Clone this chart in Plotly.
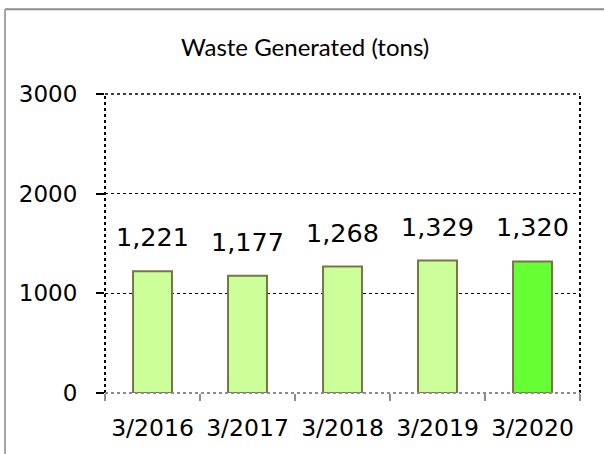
import plotly.graph_objects as go

categories = ["3/2016", "3/2017", "3/2018", "3/2019", "3/2020"]
values = [1221, 1177, 1268, 1329, 1320]
value_labels = ["1,221", "1,177", "1,268", "1,329", "1,320"]
bar_colors = ["#CCFF99", "#CCFF99", "#CCFF99", "#CCFF99", "#66FF33"]
y_ticks = [0, 1000, 2000, 3000]
title_text = "Waste Generated (tons)"

W, H = 604, 454
# plot area in pixel coordinates
PL, PR, PT, PB = 105, 580, 94, 397
L = PL
T = PT
R = W - PR
B = H - PB
pw = PR - PL
ph = PB - PT

def px(x):
    return (x - PL) / pw

def py(y):
    return (PB - y) / ph

fig = go.Figure()
fig.add_trace(go.Bar(
    x=categories, y=values,
    marker=dict(color=bar_colors, line=dict(color="#767647", width=2)),
    width=0.41,
    hoverinfo="skip",
))

for c, v, t in zip(categories, values, value_labels):
    fig.add_annotation(x=c, y=v, text=t, showarrow=False, yanchor="bottom",
                       yshift=17, font=dict(family="DejaVu Sans", size=25.5, color="#000000"))

fig.add_annotation(xref="paper", yref="paper", x=px(305), y=py(46), text=title_text,
                   showarrow=False, xanchor="center", yanchor="middle",
                   font=dict(family="Lato", size=24, color="#000000"))

shapes = [
    dict(type="line", xref="paper", yref="paper", x0=px(5), x1=px(640), y0=py(8), y1=py(8),
         line=dict(color="#8c8c8c", width=2)),
    dict(type="line", xref="paper", yref="paper", x0=px(5), x1=px(5), y0=py(8), y1=py(500),
         line=dict(color="#a6a6a6", width=2)),
    dict(type="line", xref="paper", yref="paper", x0=0, x1=1, y0=1, y1=1,
         line=dict(color="#000000", width=1.5, dash="dot")),
    dict(type="line", xref="paper", yref="paper", x0=1, x1=1, y0=0, y1=1,
         line=dict(color="#000000", width=2, dash="dot")),
    dict(type="line", xref="paper", yref="paper", x0=0, x1=0, y0=0, y1=1,
         line=dict(color="#000000", width=2, dash="dot")),
    dict(type="line", xref="paper", yref="paper", x0=0, x1=1, y0=0, y1=0,
         line=dict(color="#8c8c8c", width=2, dash="dot")),
]

fig.update_layout(
    width=W, height=H,
    margin=dict(l=L, r=R, t=T, b=B),
    paper_bgcolor="white", plot_bgcolor="white",
    showlegend=False,
    shapes=shapes,
    xaxis=dict(
        type="category", tickson="boundaries", ticks="outside", ticklen=7,
        tickcolor="#8c8c8c", tickwidth=1.5, showgrid=False, showline=False, zeroline=False,
        tickfont=dict(family="DejaVu Sans", size=23.5, color="#000000"),
        ticklabelstandoff=18,
    ),
    yaxis=dict(
        range=[0, 3000], tickvals=y_ticks, ticktext=[str(v) for v in y_ticks],
        ticks="outside", ticklen=8, tickcolor="#000000", tickwidth=1.5,
        showgrid=True, gridcolor="#000000", gridwidth=1, griddash="dot",
        zeroline=False, showline=False,
        tickfont=dict(family="DejaVu Sans", size=23, color="#000000"),
        ticklabelstandoff=14,
    ),
)

fig.write_html("out.html", config={"displayModeBar": False},
               post_script="document.body.style.margin='0';document.body.style.overflow='hidden';")
